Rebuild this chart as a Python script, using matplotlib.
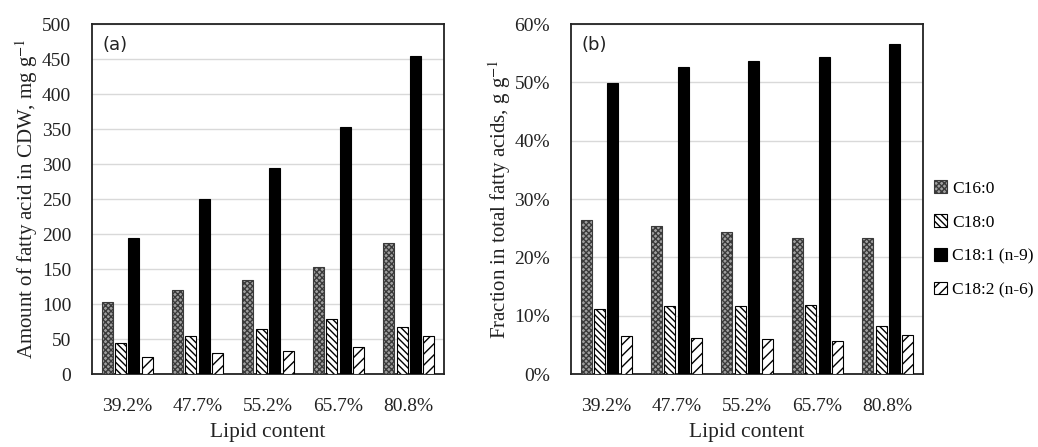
import numpy as np
import matplotlib
matplotlib.use('Agg')
import matplotlib.pyplot as plt
from matplotlib.patches import Patch
from matplotlib.ticker import PercentFormatter

lipid = ['39.2%', '47.7%', '55.2%', '65.7%', '80.8%']
acids = ['C16:0', 'C18:0', 'C18:1 (n-9)', 'C18:2 (n-6)']

# (a) amount of fatty acid in CDW, mg/g
amount = {
    'C16:0': [103, 120, 134, 153, 187],
    'C18:0': [44, 55, 65, 78, 67],
    'C18:1 (n-9)': [195, 250, 294, 353, 454],
    'C18:2 (n-6)': [25, 30, 33, 38, 55],
}
# (b) fraction in total fatty acids, %
fraction = {
    'C16:0': [26.4, 25.3, 24.3, 23.3, 23.3],
    'C18:0': [11.2, 11.6, 11.7, 11.9, 8.3],
    'C18:1 (n-9)': [49.9, 52.6, 53.7, 54.3, 56.6],
    'C18:2 (n-6)': [6.6, 6.2, 6.0, 5.7, 6.7],
}

styles = {
    'C16:0': dict(facecolor='#a0a0a0', hatch='xxxxxx', edgecolor='#3a3a3a'),
    'C18:0': dict(facecolor='white', hatch='\\\\\\\\\\', edgecolor='black'),
    'C18:1 (n-9)': dict(facecolor='black', hatch=None, edgecolor='black'),
    'C18:2 (n-6)': dict(facecolor='white', hatch='///', edgecolor='black'),
}

plt.rcParams['font.family'] = ['Liberation Serif', 'DejaVu Serif']
plt.rcParams['hatch.linewidth'] = 1.0
plt.rcParams['mathtext.fontset'] = 'stix'

fig = plt.figure(figsize=(10.38, 4.47), dpi=100)
ax1 = fig.add_axes([0.0886, 0.1633, 0.3391, 0.783])
ax2 = fig.add_axes([0.5501, 0.1633, 0.3391, 0.783])

x = np.arange(len(lipid))
w = 0.156
step = 0.19
offsets = (np.arange(4) - 1.5) * step


def draw(ax, data, ymax, ystep, label, tag):
    for i, a in enumerate(acids):
        st = styles[a]
        ax.bar(x + offsets[i], data[a], width=w, facecolor=st['facecolor'],
               hatch=st['hatch'], edgecolor=st['edgecolor'], linewidth=0.8,
               zorder=3)
    ax.set_xlim(-0.5, len(lipid) - 0.5)
    ax.set_ylim(0, ymax)
    ax.set_yticks(np.arange(0, ymax + ystep / 2, ystep))
    ax.set_xticks(x)
    ax.set_xticklabels(lipid)
    ax.grid(axis='y', color='#d9d9d9', linewidth=1.0, zorder=0)
    ax.tick_params(length=0, labelsize=14, colors='#222222')
    ax.tick_params(axis='y', pad=15)
    ax.tick_params(axis='x', pad=17)
    for s in ax.spines.values():
        s.set_linewidth(1.3)
        s.set_color('#222222')
    ax.set_xlabel('Lipid content', fontsize=15.5, labelpad=6, color='#222222')
    ax.set_ylabel(label, fontsize=15, labelpad=1, color='#222222')
    ax.text(0.03, 0.965, tag, transform=ax.transAxes, fontsize=13,
            va='top', ha='left', family='DejaVu Sans', color='#222222')


draw(ax1, amount, 500, 50, 'Amount of fatty acid in CDW, mg g$^{-1}$', '(a)')
draw(ax2, fraction, 60, 10, 'Fraction in total fatty acids, g g$^{-1}$', '(b)')
ax2.yaxis.set_major_formatter(PercentFormatter(decimals=0))

handles = [Patch(facecolor=styles[a]['facecolor'], hatch=styles[a]['hatch'],
                 edgecolor=styles[a]['edgecolor'], linewidth=0.8, label=a)
           for a in acids]
fig.legend(handles=handles, loc='upper left', bbox_to_anchor=(0.893, 0.612),
           frameon=False, fontsize=12.5, handlelength=0.75, handleheight=0.75,
           handletextpad=0.3, labelspacing=1.0, borderaxespad=0)

fig.savefig('out.png', dpi=100)
